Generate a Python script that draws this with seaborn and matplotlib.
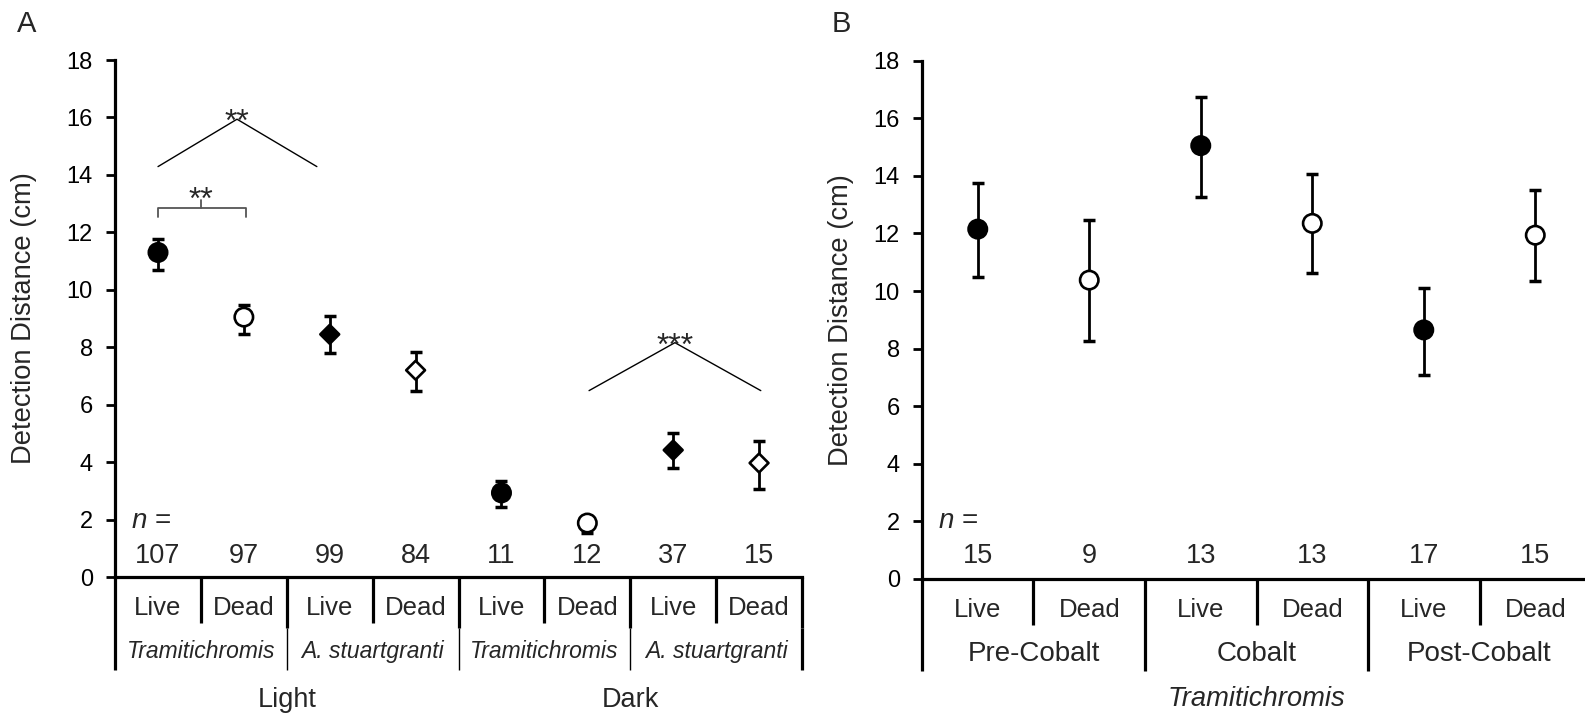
import numpy as np
import pandas as pd
import matplotlib
matplotlib.use('Agg')
import matplotlib.pyplot as plt
import seaborn as sns

# panel A values
a_state = ['Live', 'Dead'] * 4
a_species = ['Tramitichromis', 'Tramitichromis', 'A. stuartgranti', 'A. stuartgranti'] * 2
a_species_groups = ['Tramitichromis', 'A. stuartgranti', 'Tramitichromis', 'A. stuartgranti']
a_light_groups = ['Light', 'Dark']
a_mean = [11.30, 9.05, 8.45, 7.20, 2.93, 1.88, 4.42, 3.97]
a_low = [10.69, 8.47, 7.80, 6.47, 2.44, 1.53, 3.78, 3.07]
a_high = [11.77, 9.48, 9.10, 7.82, 3.36, 2.05, 5.03, 4.74]
a_n = [107, 97, 99, 84, 11, 12, 37, 15]

# panel B values
b_state = ['Live', 'Dead'] * 3
b_species = ['Tramitichromis'] * 6
b_phase_groups = ['Pre-Cobalt', 'Cobalt', 'Post-Cobalt']
b_mean = [12.15, 10.38, 15.05, 12.35, 8.65, 11.94]
b_low = [10.49, 8.27, 13.28, 10.61, 7.09, 10.34]
b_high = [13.74, 12.46, 16.73, 14.06, 10.12, 13.51]
b_n = [15, 9, 13, 13, 17, 15]

yticks = list(range(0, 19, 2))

sns.set_style('ticks')
plt.rcParams['font.family'] = ['Liberation Sans', 'DejaVu Sans']
plt.rcParams['mathtext.fontset'] = 'custom'
plt.rcParams['mathtext.it'] = 'Liberation Sans:italic'
plt.rcParams['mathtext.rm'] = 'Liberation Sans'

df_a = pd.DataFrame({'pos': np.arange(len(a_mean)), 'mean': a_mean, 'low': a_low,
                     'high': a_high, 'state': a_state, 'species': a_species, 'n': a_n})
df_b = pd.DataFrame({'pos': np.arange(len(b_mean)), 'mean': b_mean, 'low': b_low,
                     'high': b_high, 'state': b_state, 'species': b_species, 'n': b_n})

fig = plt.figure(figsize=(15.85, 7.26), dpi=100)
axA = fig.add_axes([0.0726, 0.2052, 0.4334, 0.7121])
axB = fig.add_axes([0.5817, 0.2025, 0.4221, 0.7139])


def draw_points(ax, df):
    ax.errorbar(df['pos'], df['mean'],
                yerr=[df['mean'] - df['low'], df['high'] - df['mean']],
                fmt='none', ecolor='black', elinewidth=2.0, capsize=4.5,
                capthick=2.5, zorder=2)
    sns.scatterplot(data=df, x='pos', y='mean', hue='state', style='species',
                    size='species',
                    sizes={'Tramitichromis': 175, 'A. stuartgranti': 92},
                    markers={'Tramitichromis': 'o', 'A. stuartgranti': 'D'},
                    palette={'Live': 'black', 'Dead': 'white'},
                    edgecolor='black', linewidth=1.9, legend=False,
                    ax=ax, zorder=3)


def style_axis(ax, ncat, ybottom):
    ax.set_xlim(-0.5, ncat - 0.5)
    ax.set_ylim(0, 18)
    ax.set_yticks(yticks)
    ax.set_xticks([])
    ax.set_xlabel('')
    ax.set_ylabel('Detection Distance (cm)', fontsize=19.7)
    sns.despine(ax=ax)
    for s in ['left', 'bottom']:
        ax.spines[s].set_linewidth(2.3)
        ax.spines[s].set_color('black')
    ax.tick_params(axis='y', length=6.5, width=2, labelsize=17, pad=9.5, colors='black')
    # left spine runs down through the label boxes
    ax.plot([-0.5, -0.5], [0, ybottom], color='black', lw=2.3,
            clip_on=False, solid_capstyle='butt')


def add_n(ax, df, nx, ny, vy):
    ax.text(nx, ny, r'$n$ =', fontsize=20, ha='left', va='center')
    for p, n in zip(df['pos'], df['n']):
        ax.text(p, vy, str(n), fontsize=19.5, ha='center', va='center')


# ---------- panel A ----------
draw_points(axA, df_a)
style_axis(axA, len(a_mean), -3.24)
axA.yaxis.set_label_coords(-0.113, 0.5)
add_n(axA, df_a, -0.32, 1.95, 0.72)

for p, st in zip(df_a['pos'], a_state):
    axA.text(p, -1.08, st, fontsize=18.5, ha='center', va='center')
for i in range(len(a_mean)):
    xb = i + 0.5
    if i % 2 == 0:
        axA.plot([xb, xb], [0, -1.61], color='black', lw=2.3, clip_on=False,
                 solid_capstyle='butt')
    else:
        axA.plot([xb, xb], [0, -1.78], color='black', lw=2.3, clip_on=False,
                 solid_capstyle='butt')
        lw2 = 2.3 if i == len(a_mean) - 1 else 1.0
        axA.plot([xb, xb], [-1.78, -3.24], color='black', lw=lw2, clip_on=False,
                 solid_capstyle='butt')
for g, name in enumerate(a_species_groups):
    axA.text(2 * g + 0.5, -2.61, name, fontsize=16.5, style='italic',
             ha='center', va='center')
for g, name in enumerate(a_light_groups):
    axA.text(4 * g + 1.5, -4.28, name, fontsize=19.5, ha='center', va='center')

# significance marks
axA.plot([0, 0, 1.03, 1.03], [12.55, 12.85, 12.85, 12.55], color='#555555', lw=1.3)
axA.plot([0.5, 0.5], [12.85, 13.12], color='#555555', lw=1.3)
axA.text(0.5, 12.82, '**', fontsize=23, ha='center', va='baseline')
axA.plot([0, 0.92, 1.85], [14.29, 15.94, 14.29], color='black', lw=1.0)
axA.text(0.92, 15.55, '**', fontsize=23, ha='center', va='baseline')
axA.plot([5.02, 6.02, 7.02], [6.49, 8.16, 6.49], color='black', lw=1.0)
axA.text(6.02, 7.74, '***', fontsize=23, ha='center', va='baseline')

# ---------- panel B ----------
draw_points(axB, df_b)
style_axis(axB, len(b_mean), -3.2)
axB.yaxis.set_label_coords(-0.101, 0.5)
add_n(axB, df_b, -0.36, 2.0, 0.81)

for p, st in zip(df_b['pos'], b_state):
    axB.text(p, -1.08, st, fontsize=18.5, ha='center', va='center')
for i in range(len(b_mean)):
    xb = i + 0.5
    yb = -1.61 if i % 2 == 0 else -3.2
    axB.plot([xb, xb], [0, yb], color='black', lw=2.3, clip_on=False,
             solid_capstyle='butt')
for g, name in enumerate(b_phase_groups):
    axB.text(2 * g + 0.5, -2.62, name, fontsize=20, ha='center', va='center')
axB.text(2.5, -4.16, 'Tramitichromis', fontsize=19.7, style='italic',
         ha='center', va='center')

fig.text(27 / 1585, 1 - 24 / 726, 'A', fontsize=21, ha='center', va='center')
fig.text(841 / 1585, 1 - 24 / 726, 'B', fontsize=21, ha='center', va='center')

fig.savefig('out.png', dpi=100)
